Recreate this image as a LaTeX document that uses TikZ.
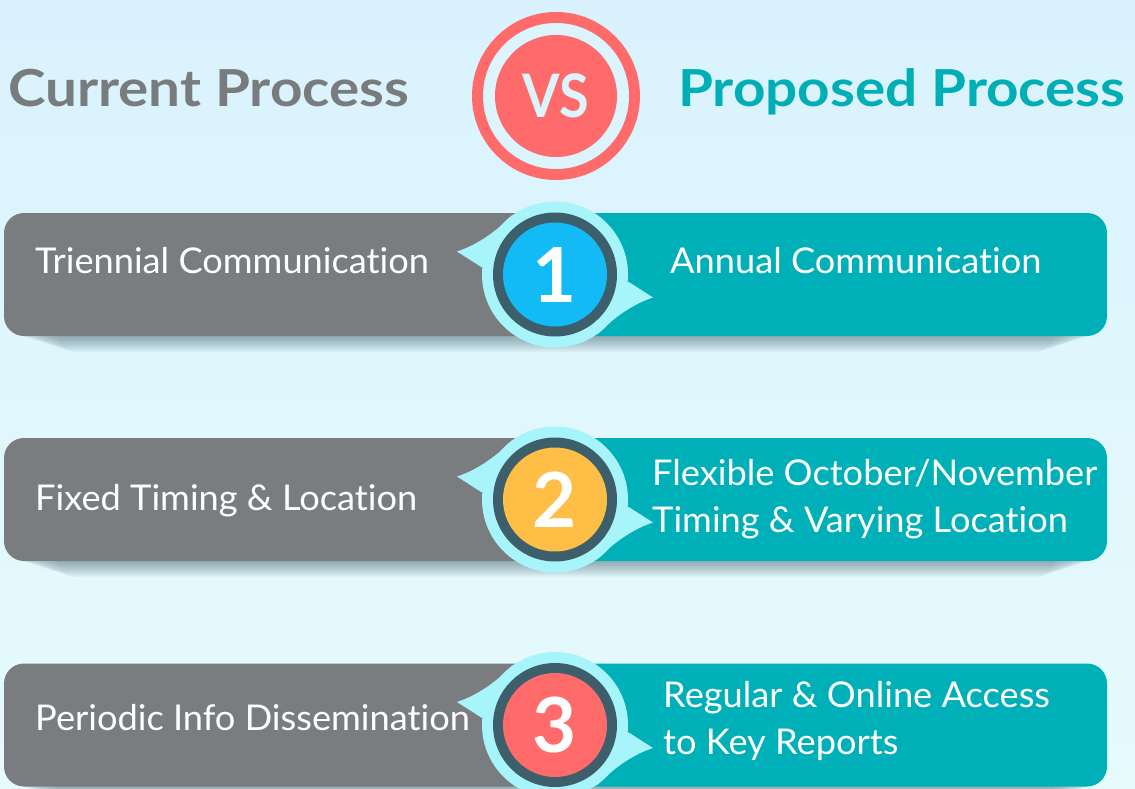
\documentclass[tikz,border=0pt]{standalone}
\usepackage{fontspec}
\setmainfont{Lato}[Ligatures={NoCommon}]
\definecolor{bgtop}{HTML}{D9F2FD}
\definecolor{bgbot}{HTML}{E7FBFD}
\definecolor{barg}{HTML}{7A7D80}
\definecolor{bart}{HTML}{00B0B9}
\definecolor{halo}{HTML}{A8F4FB}
\definecolor{ringd}{HTML}{3D5F6B}
\definecolor{nblue}{HTML}{12BBF5}
\definecolor{norange}{HTML}{FFBE45}
\definecolor{nred}{HTML}{FF6B6B}
\definecolor{shadowc}{HTML}{2E4E58}
\definecolor{titleg}{HTML}{797C7F}
\definecolor{titlet}{HTML}{00AEB6}
\definecolor{vstext}{HTML}{DCF4FD}
\begin{document}
\begin{tikzpicture}[x=1pt,y=-1pt,
  bodytext/.style={text=white,font=\fontsize{35.5}{42}\selectfont,inner sep=0pt,anchor=base west,xscale=1.02},
  titletext/.style={font=\bfseries\fontsize{51}{60}\selectfont,inner sep=0pt,anchor=base west,xscale=1.11},
  numtext/.style={text=white,font=\bfseries\fontsize{76}{76}\selectfont,inner sep=0pt},
  disc/.style={circle,inner sep=0pt,minimum size=#1}]
\useasboundingbox (0,0) rectangle (1135,789);
\shade[top color=bgtop,bottom color=bgbot] (0,0) rectangle (1135,789);

% titles
\node[titletext,text=titleg] (cur) at (8,107) {Current Process};
\node[titletext,text=titlet] (prop) at (678,107) {Proposed Process};
% VS badge
\node[disc=168pt,fill=nred] (vsout) at (556,96) {};
\node[disc=146pt,fill=vstext] (vsring) at (556,96) {};
\node[disc=122pt,fill=nred] (vsin) at (556,96) {};
\node[text=vstext,font=\bfseries\fontsize{60}{60}\selectfont,inner sep=0pt,xscale=0.9] (vs) at (556,96) {VS};

% rows
\foreach \cy/\col/\num [count=\i] in {274.5/nblue/1, 499.5/norange/2, 725/nred/3}{
  % soft shadow
  \foreach \k in {1,...,10}{
    \fill[shadowc,opacity=0.05,rounded corners=20pt]
      ({6+5*\k},{\cy-61.5+1.6*\k}) rectangle ({1105-5*\k},{\cy+61.5+1.6*\k});
  }
  % bars
  \fill[barg,rounded corners=20pt] (4,{\cy-61.5}) rectangle (585,{\cy+61.5});
  \fill[bart,rounded corners=20pt] (530,{\cy-61.5}) rectangle (1107,{\cy+61.5});
  % halo with pointers
  \fill[halo,shift={(555,\cy)}] (-42,-60) .. controls (-62,-40) and (-80,-29) .. (-98,-23) -- (-73,-7) -- cycle;
  \fill[halo,shift={(555,\cy)}] (42,60) .. controls (62,40) and (80,29) .. (98,23) -- (73,7) -- cycle;
  \node[disc=146pt,fill=halo] (h\i) at (555,\cy) {};
  \node[disc=124pt,fill=ringd] (r\i) at (555,\cy) {};
  \node[disc=104pt,fill=\col] (c\i) at (555,\cy) {};
  \node[numtext] (n\i) at (555,\cy) {\num};
}

% texts
\node[bodytext] (l1) at (35,273) {Triennial Communication};
\node[bodytext] (p1) at (670,273) {Annual Communication};
\node[bodytext] (l2) at (35,510) {Fixed Timing \& Location};
\node[bodytext] (p2a) at (652,485) {Flexible October/November};
\node[bodytext] (p2b) at (652,532) {Timing \& Varying Location};
\node[bodytext] (l3) at (35,730) {Periodic Info Dissemination};
\node[bodytext] (p3a) at (663,707) {Regular \& Online Access};
\node[bodytext] (p3b) at (663,754) {to Key Reports};
\end{tikzpicture}
\end{document}
